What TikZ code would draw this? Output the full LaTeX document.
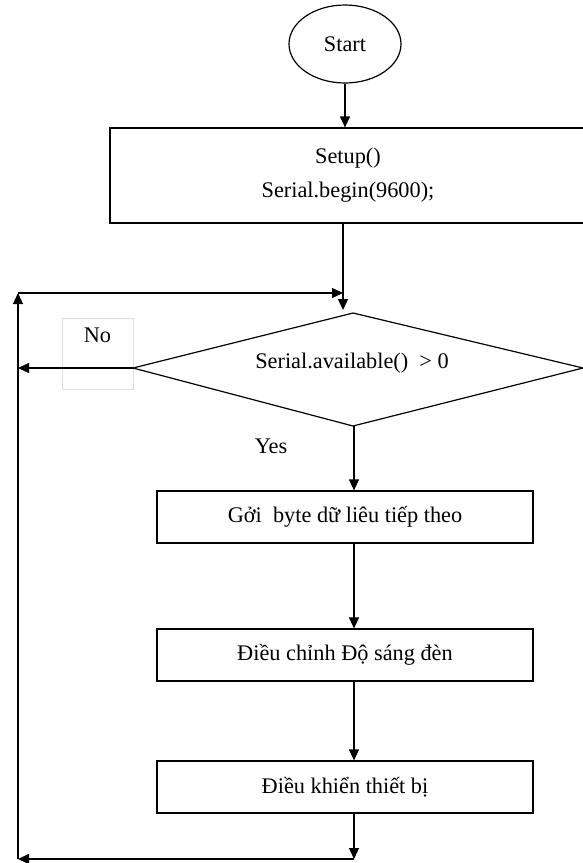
\documentclass[tikz,border=0pt]{standalone}
\usepackage{fontspec}
\setmainfont{Liberation Serif}
\usetikzlibrary{shapes.geometric,arrows.meta}
\begin{document}
\begin{tikzpicture}[x=1pt,y=-1pt,
  font=\fontsize{22.3}{26}\selectfont,
  line width=1.2pt,
  arr/.style={-{Triangle[length=11pt,width=10pt]}},
  procbox/.style={draw, rectangle, minimum width=376pt, minimum height=52pt, inner sep=0pt},
  nobox/.style={draw=gray!25, line width=0.7pt, minimum width=71pt, minimum height=71pt, align=center, inner sep=0pt}]
\useasboundingbox (0,0) rectangle (583,863);
\clip (0,0) rectangle (583,863);

% nodes
\node[draw, ellipse, minimum width=112pt, minimum height=78pt, inner sep=0pt] (start) at (345,44) {Start};
\node[draw, rectangle, minimum width=476pt, minimum height=95pt, align=center] (setup) at (348,175.5) {Setup()\\[8pt]Serial.begin(9600);};
\node[nobox] (no) at (97.5,353.5) {No\\[2pt]\strut};

% decision diamond
\coordinate (dT) at (353,313);
\coordinate (dB) at (353,426);
\coordinate (dL) at (133,368);
\coordinate (dR) at (583,368);
\draw (dL) -- (dT) -- (dR) -- (dB) -- cycle;
\node (dec) at (352,363) {Serial.available()~ > 0};

\node (yes) at (271,446) {Yes};
\node[procbox] (b1) at (345,517) {Gởi~ byte dữ liêu tiếp theo};
\node[procbox] (b2) at (345,655) {Điều chỉnh Độ sáng đèn};
\node[procbox] (b3) at (345,787) {Điều khiển thiết bị};

% helper coordinates
\coordinate (sp) at (354,0);
\coordinate (tm) at (343,293);
\coordinate (dtop) at (343,310);
\coordinate (tl) at (18,293);
\coordinate (bl) at (18,859);
\coordinate (bm) at (354,859);

% connectors
\draw[arr] (start.south) -- (start.south |- setup.north);
\draw[arr] (setup.south -| tm) -- (dtop);
\draw[arr] (dL) -- (dL -| tl);
\draw[arr] (dB -| sp) -- (b1.north -| sp);
\draw[arr] (b1.south -| sp) -- (b2.north -| sp);
\draw[arr] (b2.south -| sp) -- (b3.north -| sp);
\draw[arr] (b3.south -| sp) -- (bm);
\draw[arr] (bm) -- (bl);
\draw[arr] (bl) -- (tl);
\draw[arr] (tl) -- (tm);
\end{tikzpicture}
\end{document}
